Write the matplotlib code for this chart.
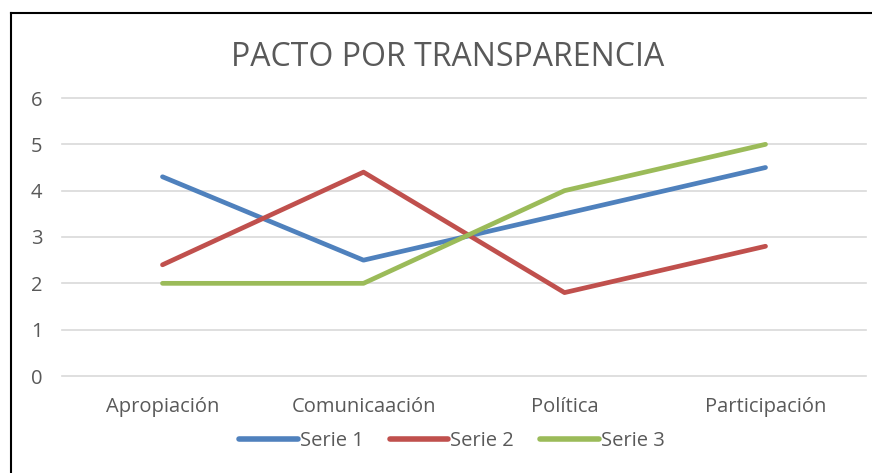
import matplotlib.pyplot as plt
from matplotlib.lines import Line2D

categories = ["Apropiación", "Comunicaación", "Política", "Participación"]
serie1 = [4.3, 2.5, 3.5, 4.5]
serie2 = [2.4, 4.4, 1.8, 2.8]
serie3 = [2.0, 2.0, 4.0, 5.0]
series_names = ["Serie 1", "Serie 2", "Serie 3"]
colors = ["#4F81BD", "#C0504D", "#9BBB59"]

plt.rcParams["font.family"] = ["Open Sans", "DejaVu Sans"]
text_color = "#595959"

fig = plt.figure(figsize=(8.72, 4.73), dpi=100)
ax = fig.add_axes([62 / 872, 1 - 376 / 473, 804 / 872, 278 / 473])

x = range(len(categories))
for vals, name, c in zip([serie1, serie2, serie3], series_names, colors):
    ax.plot(x, vals, color=c, lw=3.4, label=name, solid_capstyle="round",
            solid_joinstyle="round")

ax.set_xlim(-0.5, 3.5)
ax.set_ylim(0, 6)
ax.set_yticks(range(7))
ax.set_xticks(list(x))
ax.set_xticklabels(categories)
ax.grid(axis="y", color="#D9D9D9", lw=1.2)
for gl in ax.get_ygridlines():
    gl.set_clip_on(False)
ax.set_axisbelow(True)
for s in ax.spines.values():
    s.set_visible(False)
ax.tick_params(length=0, labelsize=14.5, labelcolor=text_color)
ax.tick_params(axis="x", pad=15)
ax.tick_params(axis="y", pad=14)

fig.text(448 / 872, 1 - 57 / 473, "PACTO POR TRANSPARENCIA", ha="center",
         va="center", fontsize=23, color=text_color)

leg = ax.legend(loc="center", bbox_to_anchor=(0.485, -0.235), ncol=3,
                frameon=False, fontsize=14.5, handlelength=2.9,
                handletextpad=0.1, columnspacing=1.3, labelcolor=text_color)
for h in leg.get_lines():
    h.set_linewidth(4)

# border on left and top only (figure cropped)
fig.add_artist(Line2D([11 / 872, 11 / 872], [0, 1 - 13 / 473], color="black",
                      lw=1.5, transform=fig.transFigure))
fig.add_artist(Line2D([11 / 872, 1], [1 - 13 / 473, 1 - 13 / 473],
                      color="black", lw=1.5, transform=fig.transFigure))

fig.savefig("out.png", dpi=100)
